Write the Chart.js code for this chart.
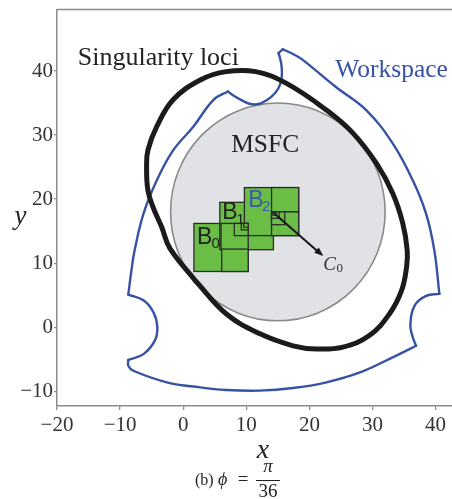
<!DOCTYPE html>
<html>
<head>
<meta charset="utf-8">
<style>
  html, body { margin: 0; padding: 0; background: #ffffff; }
  #wrap { width: 452px; height: 499px; }
</style>
<script src="https://cdn.jsdelivr.net/npm/chart.js@4.4.1/dist/chart.umd.min.js"></script>
</head>
<body>
<div id="wrap"><canvas id="c" width="452" height="499"></canvas></div>
<script>
// ---- Data (x, y in workspace units) ----
const xTicks = [-20, -10, 0, 10, 20, 30, 40];
const yTicks = [-10, 0, 10, 20, 30, 40];

// Singularity loci (closed curve)
const lociPts = [[1.9,7.3],[6.8,2.1],[12.1,-1.0],[17.4,-2.9],[21.1,-3.4],[25.3,-3.1],[29.5,-1.3],
  [32.7,2.1],[34.6,5.7],[35.4,9.4],[35.5,12.0],[34.8,16.2],[33.2,20.9],[30.6,25.6],[26.9,30.3],
  [22.7,33.9],[16.3,38.1],[11.5,39.9],[6.8,39.9],[2.7,38.6],[-1.6,35.5],[-4.2,31.3],[-5.6,27.6],
  [-5.8,25.0],[-5.6,21.4],[-4.8,18.8],[-3.4,15.6],[-2.1,12.3],[1.9,7.3]];

// Workspace boundary, split at its corner points
const wsOuterArc = [[15.8,43.4],[17.7,42.5],[19.0,41.7],[24.2,37.5],[29.0,33.9],[33.2,28.7],
  [36.4,22.9],[38.5,17.7],[39.8,12.0],[40.6,5.2]];
const wsRightNotch = [[40.6,5.2],[38.5,4.9],[36.7,3.4],[36.0,0.3],[36.4,-1.6],[36.9,-2.9]];
const wsLowerArc = [[36.9,-2.9],[33.2,-4.7],[27.9,-7.1],[22.7,-8.6],[17.4,-9.5],[12.1,-9.9],
  [6.8,-9.8],[2.7,-9.4],[-2.6,-8.6],[-7.9,-6.8],[-8.7,-6.0],[-8.7,-5.1]];
const wsLeftNotch = [[-8.7,-5.1],[-6.3,-4.2],[-4.5,-2.1],[-4.1,0.0],[-4.7,2.3],[-6.3,4.2],[-8.7,5.1]];
const wsLeftSide = [[-8.7,5.1],[-8.2,8.9],[-7.7,12.0],[-6.3,17.7],[-4.2,22.9],[-1.6,27.6],
  [1.6,31.3],[4.8,35.5],[7.1,36.8]];
const wsTopNotch = [[7.1,36.8],[7.9,36.2],[9.3,35.4],[10.9,34.8],[12.4,35.0],[14.0,36.0],
  [15.1,37.3],[15.6,38.9],[15.6,40.7],[15.3,42.2],[15.1,42.8]];
const wsTopTip = [[15.1,42.8],[15.8,43.4]];

// MSFC disc: centre and radius
const msfcCenter = [15, 18];
const msfcRadius = 17;

// Boxes B0, B1, B2 and their subdivisions: [xMin, yMin, xMax, yMax]
const boxesOuter = [[1.7,8.7,10.3,16.2],[5.8,12.1,14.3,19.5],[9.7,14.3,18.3,21.8]];
const boxesSub = [[6.1,8.7,10.3,12.5],
  [6.0,12.2,10.3,16.2],[8.1,14.3,10.3,16.2],[9.2,15.2,10.3,16.2],[9.6,15.6,10.3,16.2],
  [14.0,18.0,18.3,21.8],[14.0,14.3,18.3,18.0],[14.0,16.0,16.1,18.0],[14.0,17.0,15.2,18.0]];
const markerBox = [14.2,17.5,14.7,17.9];

// Arrow towards C0
const arrowFrom = [14.5, 17.7];
const arrowTo = [22.2, 11.1];

const BLUE = '#3652a3';
const SERIF = '"Liberation Serif", "Times New Roman", serif';
const SANS = '"Liberation Sans", Arial, sans-serif';

function curve(pts, color, width) {
  return {
    data: pts.map(([x, y]) => ({ x, y })),
    showLine: true, borderColor: color, borderWidth: width,
    pointRadius: 0, pointHoverRadius: 0, tension: 0.4, fill: false,
    borderCapStyle: 'round', borderJoinStyle: 'round'
  };
}

const datasets = [
  curve(lociPts, '#1b1b1b', 5),
  curve(wsOuterArc, BLUE, 2.4),
  curve(wsRightNotch, BLUE, 2.4),
  curve(wsLowerArc, BLUE, 2.4),
  curve(wsLeftNotch, BLUE, 2.4),
  curve(wsLeftSide, BLUE, 2.4),
  curve(wsTopNotch, BLUE, 2.4),
  curve(wsTopTip, BLUE, 2.4)
];

function toPx(chart, x, y) {
  return [chart.scales.x.getPixelForValue(x), chart.scales.y.getPixelForValue(y)];
}

function text(ctx, str, x, y, font, color, align) {
  ctx.font = font;
  ctx.fillStyle = color;
  ctx.textAlign = align || 'left';
  ctx.textBaseline = 'alphabetic';
  ctx.fillText(str, x, y);
}

const figurePlugin = {
  id: 'figure',
  beforeDatasetsDraw(chart) {
    const ctx = chart.ctx, a = chart.chartArea;
    const [cx, cy] = toPx(chart, msfcCenter[0], msfcCenter[1]);
    const rx = chart.scales.x.getPixelForValue(msfcCenter[0] + msfcRadius) - cx;
    const ry = cy - chart.scales.y.getPixelForValue(msfcCenter[1] + msfcRadius);
    ctx.save();
    ctx.beginPath();
    ctx.rect(a.left, a.top, a.right - a.left, a.bottom - a.top);
    ctx.clip();
    ctx.beginPath();
    ctx.ellipse(cx, cy, rx, ry, 0, 0, Math.PI * 2);
    ctx.fillStyle = '#e1e2e5';
    ctx.fill();
    ctx.lineWidth = 1.6;
    ctx.strokeStyle = '#8a8a8a';
    ctx.stroke();
    ctx.restore();
  },
  afterDatasetsDraw(chart) {
    const ctx = chart.ctx;
    ctx.save();
    const drawBox = (b, fill) => {
      const [x0, y0] = toPx(chart, b[0], b[3]);
      const [x1, y1] = toPx(chart, b[2], b[1]);
      ctx.fillStyle = fill;
      ctx.fillRect(x0, y0, x1 - x0, y1 - y0);
      ctx.lineWidth = 1.3;
      ctx.strokeStyle = '#2b2b2b';
      ctx.strokeRect(x0, y0, x1 - x0, y1 - y0);
    };
    boxesOuter.forEach(b => drawBox(b, '#6abd45'));
    boxesSub.forEach(b => drawBox(b, '#6abd45'));
    drawBox(markerBox, BLUE);

    // box labels
    let p = toPx(chart, 2.2, 13.0);
    text(ctx, 'B', p[0], p[1], '23px ' + SANS, '#222');
    p = toPx(chart, 4.5, 12.3);
    text(ctx, '0', p[0], p[1], '15px ' + SANS, '#222');
    p = toPx(chart, 6.2, 16.9);
    text(ctx, 'B', p[0], p[1], '23px ' + SANS, '#222');
    p = toPx(chart, 8.4, 16.1);
    text(ctx, '1', p[0], p[1], '15px ' + SANS, '#222');
    p = toPx(chart, 10.3, 18.8);
    text(ctx, 'B', p[0], p[1], '23px ' + SANS, '#3e5aa8');
    p = toPx(chart, 12.5, 18.1);
    text(ctx, '2', p[0], p[1], '15px ' + SANS, '#3e5aa8');

    // arrow to C0
    const [ax, ay] = toPx(chart, arrowFrom[0], arrowFrom[1]);
    const [bx, by] = toPx(chart, arrowTo[0], arrowTo[1]);
    const ang = Math.atan2(by - ay, bx - ax);
    ctx.strokeStyle = '#151515';
    ctx.lineWidth = 2;
    ctx.beginPath();
    ctx.moveTo(ax, ay);
    ctx.lineTo(bx - 6 * Math.cos(ang), by - 6 * Math.sin(ang));
    ctx.stroke();
    ctx.fillStyle = '#151515';
    ctx.beginPath();
    ctx.moveTo(bx, by);
    ctx.lineTo(bx - 9 * Math.cos(ang) + 3.5 * Math.sin(ang), by - 9 * Math.sin(ang) - 3.5 * Math.cos(ang));
    ctx.lineTo(bx - 9 * Math.cos(ang) - 3.5 * Math.sin(ang), by - 9 * Math.sin(ang) + 3.5 * Math.cos(ang));
    ctx.closePath();
    ctx.fill();

    p = toPx(chart, 22.2, 9.0);
    text(ctx, 'C', p[0], p[1], 'italic 19px ' + SERIF, '#333');
    p = toPx(chart, 24.3, 8.6);
    text(ctx, '0', p[0], p[1], '13px ' + SERIF, '#333');

    // region names
    p = toPx(chart, 7.6, 27.4);
    text(ctx, 'MSFC', p[0], p[1], '25.5px ' + SERIF, '#222');
    p = toPx(chart, -16.7, 40.9);
    text(ctx, 'Singularity loci', p[0], p[1], '26px ' + SERIF, '#222');
    p = toPx(chart, 24.1, 39.1);
    text(ctx, 'Workspace', p[0], p[1], '25.5px ' + SERIF, BLUE);
    ctx.restore();
  },
  afterDraw(chart) {
    const ctx = chart.ctx, a = chart.chartArea;
    ctx.save();
    // top frame line
    ctx.strokeStyle = '#8a8a8a';
    ctx.lineWidth = 1.5;
    ctx.beginPath();
    ctx.moveTo(a.left, a.top);
    ctx.lineTo(a.right, a.top);
    ctx.stroke();

    // axis titles
    text(ctx, 'x', 263, 458, 'italic 28px ' + SERIF, '#222', 'center');
    text(ctx, 'y', 20.5, 224, 'italic 27px ' + SERIF, '#222', 'center');

    // caption: (b) ϕ = π/36
    text(ctx, '(b)', 195, 485, '16px ' + SERIF, '#222');
    text(ctx, '\u03D5', 218, 485, 'italic 18px ' + SERIF, '#222');
    text(ctx, '=', 243, 485, '19px ' + SERIF, '#222', 'center');
    text(ctx, '\u03C0', 268, 472, 'italic 19px ' + SERIF, '#222', 'center');
    ctx.strokeStyle = '#222';
    ctx.lineWidth = 1;
    ctx.beginPath();
    ctx.moveTo(256, 480.5);
    ctx.lineTo(280, 480.5);
    ctx.stroke();
    text(ctx, '36', 268, 497, '19px ' + SERIF, '#222', 'center');
    ctx.restore();
  }
};

const tickLabel = v => (v < 0 ? '\u2212' + Math.abs(v) : String(v));

new Chart(document.getElementById('c'), {
  type: 'scatter',
  data: { datasets },
  options: {
    responsive: false,
    animation: false,
    layout: { padding: { top: 9.5, right: 0, bottom: 0, left: 0 } },
    plugins: { legend: { display: false }, tooltip: { enabled: false } },
    scales: {
      x: {
        type: 'linear', min: -20, max: 42.6,
        afterFit(s) { s.height = 93; s.paddingLeft = 0; s.paddingRight = 0; },
        afterBuildTicks(s) { s.ticks = xTicks.map(v => ({ value: v })); },
        ticks: { font: { family: SERIF, size: 21 }, color: '#333', padding: 3, maxRotation: 0, callback: tickLabel },
        grid: { drawOnChartArea: false, tickLength: 4, color: '#8a8a8a', lineWidth: 1.3 },
        border: { display: true, color: '#8a8a8a', width: 1.5 }
      },
      y: {
        type: 'linear', min: -12.3, max: 49.6,
        afterFit(s) { s.width = 57; s.paddingTop = 0; s.paddingBottom = 0; },
        afterBuildTicks(s) { s.ticks = yTicks.map(v => ({ value: v })); },
        ticks: { font: { family: SERIF, size: 21 }, color: '#333', padding: 1, callback: tickLabel },
        grid: { drawOnChartArea: false, tickLength: 3, color: '#8a8a8a', lineWidth: 1.3 },
        border: { display: true, color: '#8a8a8a', width: 1.5 }
      }
    }
  },
  plugins: [figurePlugin]
});
</script>
</body>
</html>
